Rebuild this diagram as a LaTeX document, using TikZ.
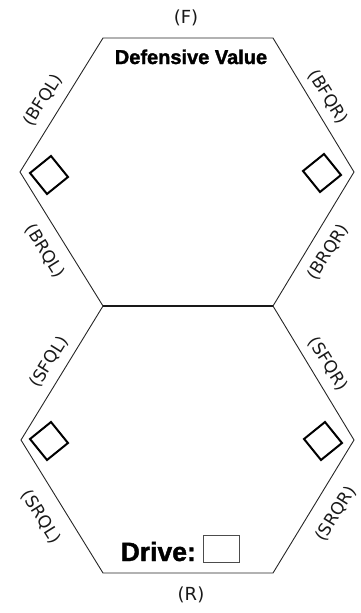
\documentclass[tikz,border=0pt]{standalone}
\usepackage{fontspec}
\setmainfont{DejaVu Sans}
\newfontfamily\heavyfont{Liberation Sans Bold}[FakeBold=1.6]
\begin{document}
\begin{tikzpicture}[x=1pt,y=-1pt,
  hexline/.style={draw=black!85, line width=0.9pt, line join=miter},
  midline/.style={draw=black!90, line width=2pt},
  lbl/.style={font=\fontsize{17}{17}\selectfont, inner sep=0pt, text=black!90},
  sidelbl/.style={font=\fontsize{18}{18}\selectfont, inner sep=0pt, text=black!90},
  diam/.style={draw=black, line width=2pt, rectangle, minimum size=27pt, inner sep=0pt, rotate=39},
  titlelbl/.style={font=\heavyfont\fontsize{20}{20}\selectfont, inner sep=0pt, anchor=base},
  drivelbl/.style={font=\heavyfont\fontsize{26.5}{26.5}\selectfont, inner sep=0pt, anchor=base west},
  drivebox/.style={draw=black!70, line width=1pt, rectangle, minimum width=36.5pt, minimum height=27pt, inner sep=0pt}
]
\useasboundingbox (0,0) rectangle (360,613);
% hexagon vertices
\coordinate (t1) at (103,38);
\coordinate (t2) at (273,38);
\coordinate (r1) at (354,172);
\coordinate (m2) at (273,306);
\coordinate (m1) at (103,306);
\coordinate (l1) at (20,172);
\coordinate (r2) at (354,440);
\coordinate (b2) at (273,573);
\coordinate (b1) at (103,573);
\coordinate (l2) at (21,440);
\draw[hexline] (m1) -- (l1) -- (t1) -- (t2) -- (r1) -- (m2);
\draw[hexline] (m1) -- (l2) -- (b1) -- (b2) -- (r2) -- (m2);
\draw[midline] (m1) -- (m2);
% top/bottom labels
\node[sidelbl] (F) at (186,17.5) {(F)};
\node[sidelbl] (R) at (191,594.5) {(R)};
% edge labels
\node[lbl, rotate=58]  (BFQL) at (43,100) {(BFQL)};
\node[lbl, rotate=-58] (BFQR) at (328,97) {(BFQR)};
\node[lbl, rotate=-58] (BRQL) at (45,251) {(BRQL)};
\node[lbl, rotate=58]  (BRQR) at (328,252) {(BRQR)};
\node[lbl, rotate=58]  (SFQL) at (49,362) {(SFQL)};
\node[lbl, rotate=-58] (SFQR) at (328,364) {(SFQR)};
\node[lbl, rotate=-58] (SRQL) at (41,517) {(SRQL)};
\node[lbl, rotate=58]  (SRQR) at (336,514) {(SRQR)};
% diamonds
\node[diam] (d1) at (49,175) {};
\node[diam] (d2) at (322,173) {};
\node[diam] (d3) at (49,441) {};
\node[diam] (d4) at (323,441) {};
% titles
\node[titlelbl] (title) at (191,64) {Defensive Value};
\node[drivelbl] (drive) at (120.5,561) {Drive:};
\node[drivebox] (box) at (221.7,549.2) {};
\end{tikzpicture}
\end{document}
